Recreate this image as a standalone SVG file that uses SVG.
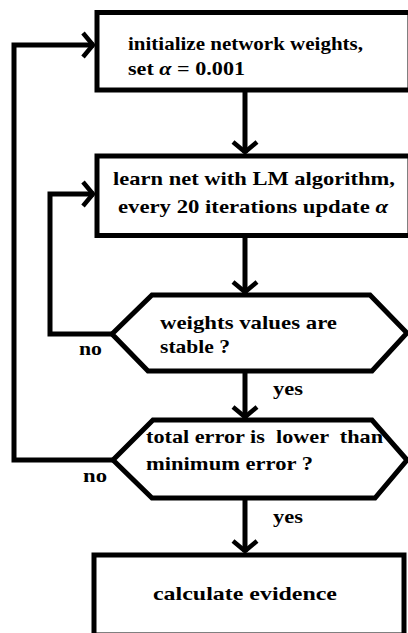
<svg xmlns="http://www.w3.org/2000/svg" width="408" height="633" viewBox="0 0 408 633">
  <defs>
    <style>
      .box { fill: #ffffff; stroke: #000000; stroke-width: 5; stroke-linejoin: miter; }
      .link { fill: none; stroke: #000000; stroke-width: 5; stroke-linejoin: miter; }
      .lbl { font-family: "Liberation Serif", "DejaVu Serif", serif; font-weight: bold; font-size: 19px; fill: #000000; }
      .it { font-style: italic; }
    </style>
    <marker id="chev" markerUnits="userSpaceOnUse" viewBox="-14 -14 16 28" refX="0" refY="0" markerWidth="16" markerHeight="28" orient="auto" overflow="visible">
      <path d="M -11 -12 L -1 0 L -11 12" fill="none" stroke="#000000" stroke-width="4.5"/>
    </marker>
  </defs>
  <rect width="408" height="633" fill="#ffffff"/>

  <!-- connectors -->
  <g id="connectors">
    <line class="link" x1="245" y1="91" x2="245" y2="153" marker-end="url(#chev)"/>
    <line class="link" x1="245" y1="237" x2="245" y2="293" marker-end="url(#chev)"/>
    <line class="link" x1="245" y1="372" x2="245" y2="418" marker-end="url(#chev)"/>
    <line class="link" x1="245" y1="499" x2="245" y2="552" marker-end="url(#chev)"/>
    <!-- inner loop: not stable, back to learning -->
    <polyline class="link" points="112,334 50,334 50,194 94,194" marker-end="url(#chev)"/>
    <!-- outer loop: error too high, back to initialization -->
    <polyline class="link" points="113,460 14,460 14,45 94,45" marker-end="url(#chev)"/>
  </g>

  <g id="init">
    <rect class="box" x="97" y="12.5" width="313" height="77.5"/>
    <text class="lbl" x="128" y="50" textLength="235" lengthAdjust="spacingAndGlyphs">initialize network weights,</text>
    <text class="lbl" x="128" y="75" textLength="117" lengthAdjust="spacingAndGlyphs">set <tspan class="it">α</tspan> = 0.001</text>
  </g>

  <g id="learn">
    <rect class="box" x="97" y="156" width="313" height="79.5"/>
    <text class="lbl" x="113" y="185" textLength="282" lengthAdjust="spacingAndGlyphs">learn net with LM algorithm,</text>
    <text class="lbl" x="118" y="213" textLength="270" lengthAdjust="spacingAndGlyphs">every 20 iterations update <tspan class="it">α</tspan></text>
  </g>

  <g id="stable">
    <polygon class="box" points="152,295 370,295 407,333 372,371 148,371 112,334"/>
    <text class="lbl" x="160" y="329" textLength="177" lengthAdjust="spacingAndGlyphs">weights values are</text>
    <text class="lbl" x="160" y="353" textLength="70" lengthAdjust="spacingAndGlyphs">stable ?</text>
    <text class="lbl" x="79" y="355" textLength="23" lengthAdjust="spacingAndGlyphs">no</text>
    <text class="lbl" x="273" y="395" textLength="30" lengthAdjust="spacingAndGlyphs">yes</text>
  </g>

  <g id="error">
    <polygon class="box" points="153,420 372,420 407,460 375,498 152,498 113,460"/>
    <text class="lbl" x="146" y="443" xml:space="preserve" textLength="237" lengthAdjust="spacingAndGlyphs">total error is  lower  than</text>
    <text class="lbl" x="146" y="470" textLength="167" lengthAdjust="spacingAndGlyphs">minimum error ?</text>
    <text class="lbl" x="83" y="482" textLength="24" lengthAdjust="spacingAndGlyphs">no</text>
    <text class="lbl" x="273" y="523" textLength="30" lengthAdjust="spacingAndGlyphs">yes</text>
  </g>

  <g id="evidence">
    <rect class="box" x="94" y="555" width="310" height="80"/>
    <text class="lbl" x="153" y="600" textLength="184" lengthAdjust="spacingAndGlyphs">calculate evidence</text>
  </g>
</svg>
